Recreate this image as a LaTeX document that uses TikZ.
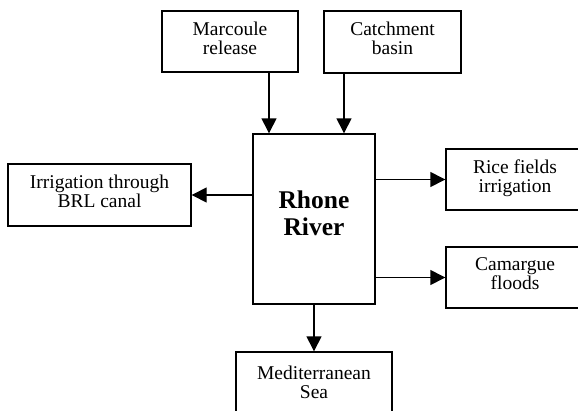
\documentclass[tikz,border=0pt]{standalone}
\usepackage{fontspec}
\setmainfont{Liberation Serif}
\usetikzlibrary{arrows.meta}

\begin{document}
\begin{tikzpicture}[x=1pt, y=-1pt, >={Triangle[length=15pt,width=15pt]}, line width=1.4pt,
    box/.style={draw, align=center, inner sep=0pt, text depth=7pt,
        font=\fontsize{19.5}{19}\selectfont},
    flow/.style={->}]
    \useasboundingbox (0,0) rectangle (578,410);
    \clip (0,0) rectangle (578,410);

    % inputs
    \node[box, minimum width=136pt, minimum height=61pt] (marcoule) at (230,41.5) {Marcoule\\release};
    \node[box, minimum width=137pt, minimum height=62pt] (catchment) at (392.5,42) {Catchment\\basin};

    % the river
    \node[box, minimum width=122pt, minimum height=170pt, text depth=12pt,
        font=\bfseries\fontsize{25.5}{27}\selectfont] (rhone) at (314,219) {Rhone\\River};

    % outputs
    \node[box, minimum width=183pt, minimum height=62pt] (brl) at (99.5,195) {Irrigation through\\BRL canal};
    \node[box, minimum width=138pt, minimum height=61pt] (rice) at (515,179.5) {Rice fields\\irrigation};
    \node[box, minimum width=138pt, minimum height=61pt] (camargue) at (515,277.5) {Camargue\\floods};
    \node[box, minimum width=156pt, minimum height=67pt] (med) at (314,385.5) {Mediterranean\\Sea};

    % flows in
    \draw[flow] ([xshift=39pt]marcoule.south) -- ([xshift=39pt]marcoule.south |- rhone.north);
    \draw[flow] ([xshift=-48.5pt]catchment.south) -- ([xshift=-48.5pt]catchment.south |- rhone.north);

    % flows out
    \draw[flow] (rhone.west |- brl.east) -- (brl.east);
    \draw[flow] (rhone.east |- rice.west) -- (rice.west);
    \draw[flow] (rhone.east |- camargue.west) -- (camargue.west);
    \draw[flow] (rhone.south) -- (med.north);
\end{tikzpicture}
\end{document}
